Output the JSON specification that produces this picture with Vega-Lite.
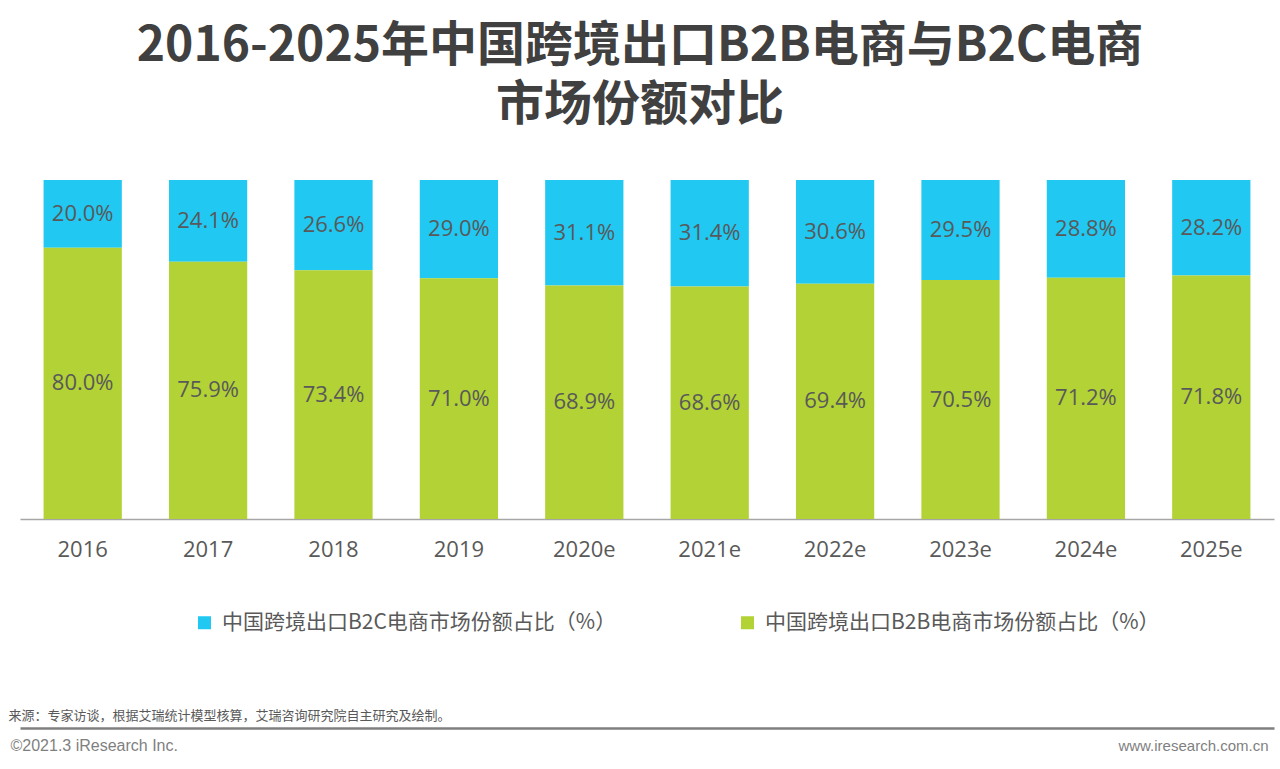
{
  "$schema": "https://vega.github.io/schema/vega-lite/v6.json",
  "width": 1254,
  "height": 339,
  "autosize": {"type": "none"},
  "padding": {"left": 20, "top": 180, "right": 6, "bottom": 250},
  "background": "white",
  "title": {
    "text": ["2016-2025年中国跨境出口B2B电商与B2C电商", "市场份额对比"],
    "font": "Noto Sans CJK SC",
    "fontWeight": "bold",
    "fontSize": 48,
    "lineHeight": 59,
    "color": "#404040",
    "anchor": "middle",
    "dx": -7,
    "offset": 50
  },
  "config": {
    "view": {"stroke": null},
    "font": "Noto Sans CJK SC",
    "axisY": {
      "domain": false,
      "labels": false,
      "ticks": false,
      "grid": false,
      "titleFont": "Liberation Sans",
      "titleFontSize": 15,
      "titleFontWeight": "normal",
      "titleColor": "#7f7f7f",
      "titleAngle": 0,
      "titleAlign": "right",
      "titleBaseline": "middle",
      "titleX": 1248,
      "titleY": 565
    }
  },
  "data": {
    "values": [
      {"year": "2016", "type": "中国跨境出口B2C电商市场份额占比（%）", "share": 0.200},
      {"year": "2016", "type": "中国跨境出口B2B电商市场份额占比（%）", "share": 0.800},
      {"year": "2017", "type": "中国跨境出口B2C电商市场份额占比（%）", "share": 0.241},
      {"year": "2017", "type": "中国跨境出口B2B电商市场份额占比（%）", "share": 0.759},
      {"year": "2018", "type": "中国跨境出口B2C电商市场份额占比（%）", "share": 0.266},
      {"year": "2018", "type": "中国跨境出口B2B电商市场份额占比（%）", "share": 0.734},
      {"year": "2019", "type": "中国跨境出口B2C电商市场份额占比（%）", "share": 0.290},
      {"year": "2019", "type": "中国跨境出口B2B电商市场份额占比（%）", "share": 0.710},
      {"year": "2020e", "type": "中国跨境出口B2C电商市场份额占比（%）", "share": 0.311},
      {"year": "2020e", "type": "中国跨境出口B2B电商市场份额占比（%）", "share": 0.689},
      {"year": "2021e", "type": "中国跨境出口B2C电商市场份额占比（%）", "share": 0.314},
      {"year": "2021e", "type": "中国跨境出口B2B电商市场份额占比（%）", "share": 0.686},
      {"year": "2022e", "type": "中国跨境出口B2C电商市场份额占比（%）", "share": 0.306},
      {"year": "2022e", "type": "中国跨境出口B2B电商市场份额占比（%）", "share": 0.694},
      {"year": "2023e", "type": "中国跨境出口B2C电商市场份额占比（%）", "share": 0.295},
      {"year": "2023e", "type": "中国跨境出口B2B电商市场份额占比（%）", "share": 0.705},
      {"year": "2024e", "type": "中国跨境出口B2C电商市场份额占比（%）", "share": 0.288},
      {"year": "2024e", "type": "中国跨境出口B2B电商市场份额占比（%）", "share": 0.712},
      {"year": "2025e", "type": "中国跨境出口B2C电商市场份额占比（%）", "share": 0.282},
      {"year": "2025e", "type": "中国跨境出口B2B电商市场份额占比（%）", "share": 0.718}
    ]
  },
  "resolve": {"axis": {"x": "independent"}},
  "layer": [
    {
      "mark": {"type": "bar"},
      "encoding": {
        "x": {
          "field": "year",
          "type": "nominal",
          "sort": null,
          "scale": {"paddingInner": 0.376, "paddingOuter": 0.188},
          "axis": {
            "orient": "bottom",
            "labelAngle": 0,
            "labelFont": "Open Sans",
            "labelFontSize": 22,
            "labelColor": "#595959",
            "labelPadding": 20,
            "ticks": false,
            "domainColor": "#a6a6a6",
            "domainWidth": 1.5,
            "title": "来源：专家访谈，根据艾瑞统计模型核算，艾瑞咨询研究院自主研究及绘制。",
            "titleFont": "Noto Sans CJK SC",
            "titleFontSize": 13,
            "titleFontWeight": "normal",
            "titleColor": "#595959",
            "titleAlign": "left",
            "titleBaseline": "middle",
            "titleX": -12,
            "titleY": 196
          }
        },
        "y": {
          "field": "share",
          "type": "quantitative",
          "stack": "zero",
          "scale": {"domain": [0, 1]},
          "title": "www.iresearch.com.cn"
        },
        "color": {
          "field": "type",
          "type": "nominal",
          "scale": {
            "domain": ["中国跨境出口B2C电商市场份额占比（%）", "中国跨境出口B2B电商市场份额占比（%）"],
            "range": ["#20c8f2", "#b2d235"]
          },
          "legend": {
            "orient": "none",
            "direction": "horizontal",
            "legendX": 174,
            "legendY": 432,
            "title": null,
            "symbolType": "square",
            "symbolSize": 169,
            "symbolStrokeWidth": 0,
            "labelFont": "Noto Sans CJK SC",
            "labelFontSize": 21,
            "labelColor": "#595959",
            "labelOffset": 7,
            "labelLimit": 600,
            "columnPadding": 120
          }
        },
        "order": {"field": "type", "sort": "ascending"}
      }
    },
    {
      "transform": [
        {"stack": "share", "groupby": ["year"], "sort": [{"field": "type", "order": "ascending"}], "as": ["s0", "s1"]},
        {"calculate": "(datum.s0 + datum.s1) / 2", "as": "mid"}
      ],
      "mark": {"type": "text", "font": "Open Sans", "fontSize": 22, "color": "#595959", "baseline": "middle", "align": "center"},
      "encoding": {
        "x": {
          "field": "year",
          "type": "nominal",
          "sort": null,
          "axis": {
            "orient": "bottom",
            "offset": 209,
            "labels": false,
            "ticks": false,
            "domainColor": "#7f7f7f",
            "domainWidth": 2.5,
            "title": "©2021.3 iResearch Inc.",
            "titleFont": "Liberation Sans",
            "titleFontSize": 16,
            "titleFontWeight": "normal",
            "titleColor": "#7f7f7f",
            "titleAlign": "left",
            "titleBaseline": "middle",
            "titleX": -10,
            "titleY": 17
          }
        },
        "y": {"field": "mid", "type": "quantitative", "title": "www.iresearch.com.cn"},
        "text": {"field": "share", "type": "quantitative", "format": ".1%"}
      }
    }
  ]
}
